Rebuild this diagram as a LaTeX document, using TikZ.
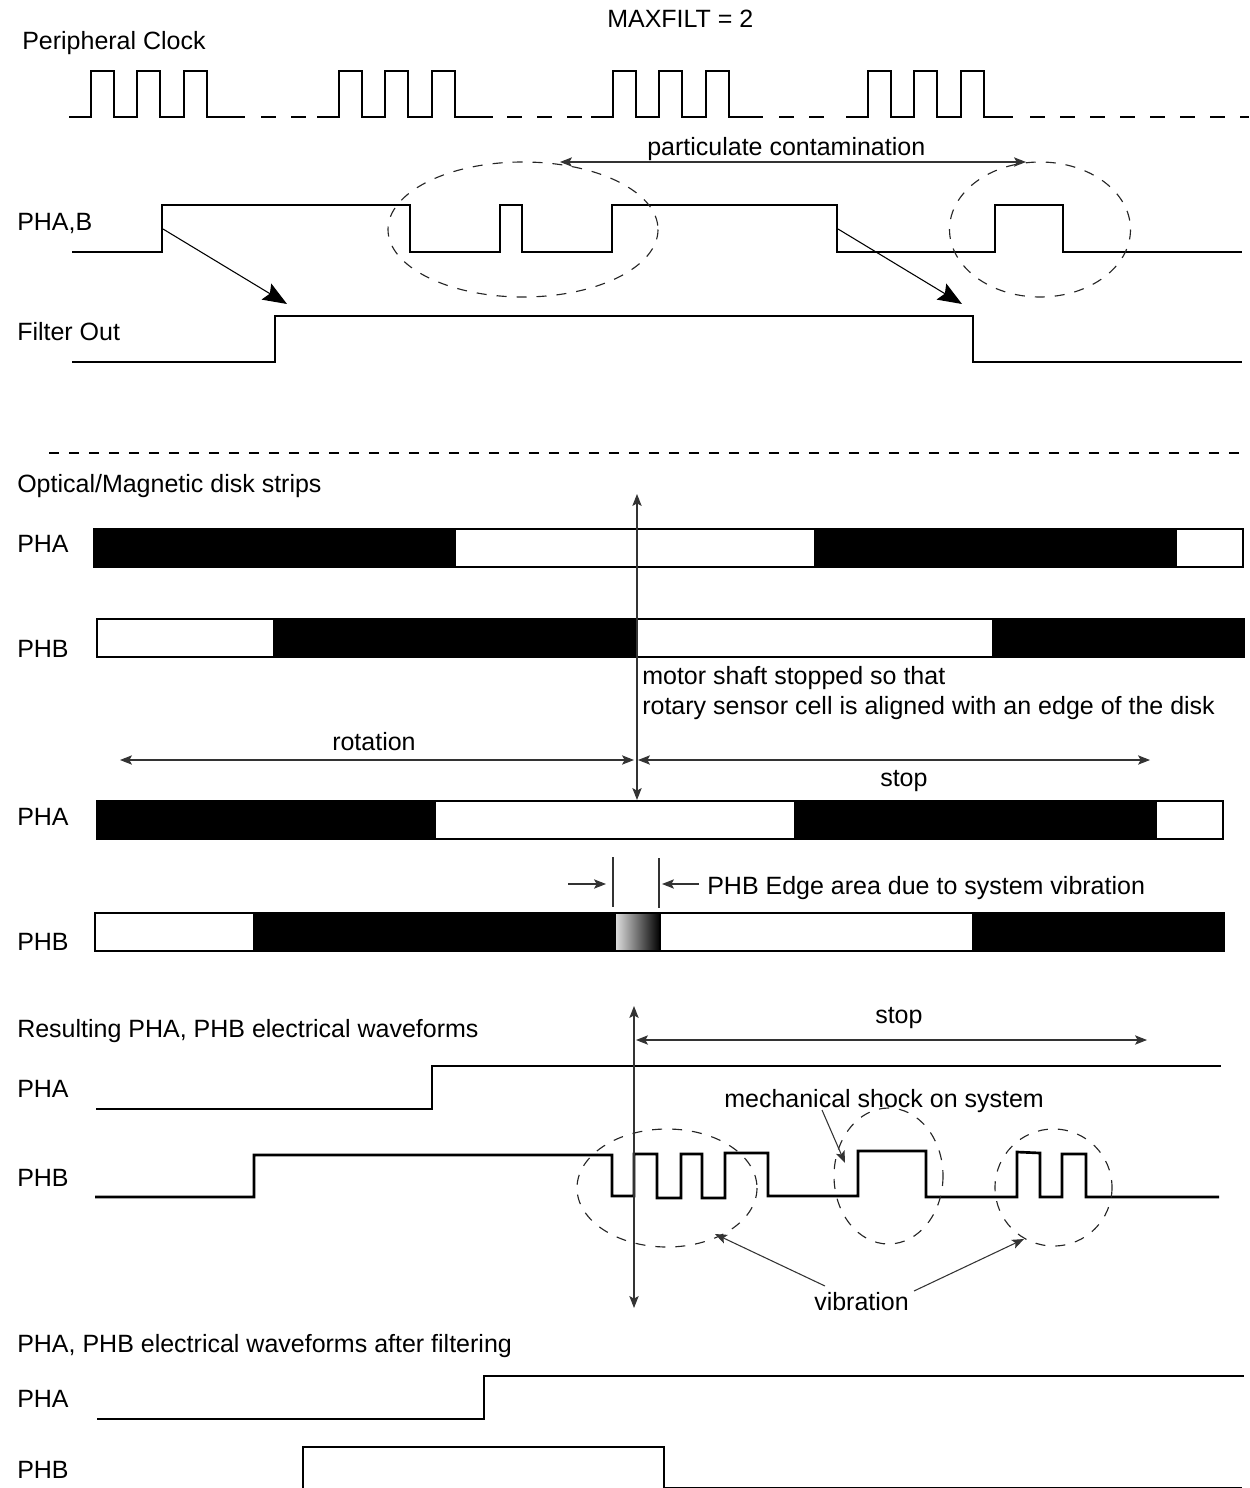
\documentclass[tikz,border=0pt]{standalone}
\usepackage{fontspec}
\setmainfont{Liberation Sans}
\usetikzlibrary{arrows.meta}
\begin{document}
\begin{tikzpicture}[
  x=0.75pt, y=-0.75pt,
  every node/.style={anchor=base west, inner sep=0pt, font=\fontsize{18.75}{22}\selectfont},
  wave/.style={line width=2pt, line join=miter},
  dashwave/.style={line width=2pt, dash pattern=on 11.25pt off 11.25pt},
  strip/.style={draw=black, line width=1.7pt, fill=white},
  blackbar/.style={fill=black},
  halo/.style={line width=0.85pt, draw=black!85, dash pattern=on 7.5pt off 7.5pt},
  link/.style={line width=0.8pt, draw=black!80, -{Stealth[length=9pt,width=7pt,inset=2pt]}},
  span/.style={line width=0.8pt, draw=black!80, {Stealth[length=9pt,width=7pt,inset=2pt]}-{Stealth[length=9pt,width=7pt,inset=2pt]}},
  bighead/.style={line width=0.8pt, -{Stealth[length=18pt,width=14pt,inset=3pt]}}
]
\useasboundingbox (0,0) rectangle (1249,1488);

% clock
\node (maxfilt) at (607,28) {MAXFILT = 2};
\node (clock) at (22,50) {Peripheral Clock};
\foreach \x/\y in {69/245,317/493,591/763,846/1013}
  \draw[wave] (\x,117) -| ++(22,-46) -| ++(23,46) -| ++(23,-46) -| ++(23,46) -| ++(24,-46) -| ++(23,46) -- (\y,117);
\draw[dashwave] (261,117) -- (318,117);
\draw[dashwave] (507,117) -- (585,117);
\draw[dashwave] (779,117) -- (826,117);
\draw[dashwave] (1030,117) -- (1249,117);

% filter
\node (phab) at (17,230) {PHA,B};
\node (filterout) at (17,340) {Filter Out};
\node (particulate) at (647,155) {particulate contamination};
\draw[wave] (72,252) -- (162,252) -- (162,205) -- (410,205) -- (410,252) -- (500,252) -- (500,205)
  -- (522,205) -- (522,252) -- (612,252) -- (612,205) -- (837,205) -- (837,252) -- (995,252)
  -- (995,205) -- (1063,205) -- (1063,252) -- (1242,252);
\draw[wave] (72,362) -- (275,362) -- (275,316) -- (973,316) -- (973,362) -- (1242,362);
\draw[halo] (523,229.5) ellipse (135 and 67.5);
\draw[halo] (1040,229.5) ellipse (90.5 and 67.5);
\coordinate (riseA) at (163,229);
\coordinate (riseB) at (287,304);
\coordinate (fallA) at (838,229);
\coordinate (fallB) at (962,304);
\coordinate (partA) at (560,162);
\coordinate (partB) at (1026,162);
\draw[bighead] (riseA) -- (riseB);
\draw[bighead] (fallA) -- (fallB);
\draw[span] (partA) -- (partB);

\coordinate (sepA) at (49,453);
\coordinate (sepB) at (1241,453);
\draw[line width=2pt, dash pattern=on 7.5pt off 7.5pt] (sepA) -- (sepB);

% disk strips
\node (disk) at (17,492) {Optical/Magnetic disk strips};
\node (phaA) at (17,552) {PHA};
\node (phbA) at (17,657) {PHB};
\draw[strip] (94,529) rectangle (1243,567);
\foreach \a/\b in {93/456,814/1177}
  \fill[blackbar] (\a,528) rectangle (\b,568);
\draw[strip] (97,619) rectangle (1244,657);
\foreach \a/\b in {273/637,992/1245}
  \fill[blackbar] (\a,618) rectangle (\b,658);

\node (motorA) at (642,684) {motor shaft stopped so that};
\node (motorB) at (642,714) {rotary sensor cell is aligned with an edge of the disk};
\node (rotation) at (332,750) {rotation};
\node (stopA) at (880,786) {stop};
\coordinate (rotA) at (120,760);
\coordinate (rotB) at (634,760);
\coordinate (stopL) at (638,760);
\coordinate (stopR) at (1150,760);
\draw[span] (rotA) -- (rotB);
\draw[span] (stopL) -- (stopR);

\node (phaB) at (17,825) {PHA};
\node (phbB) at (17,950) {PHB};
\draw[strip] (97,801) rectangle (1223,839);
\foreach \a/\b in {96/436,794/1157}
  \fill[blackbar] (\a,800) rectangle (\b,840);
\draw[strip] (95,913) rectangle (1224,951);
\foreach \a/\b in {253/614,972/1224}
  \fill[blackbar] (\a,912) rectangle (\b,952);
\shade[left color=black!12, right color=black] (615,913) rectangle (660,951);
\draw[line width=1.7pt] (615,913) rectangle (660,951);

\coordinate (shaftT) at (637,494);
\coordinate (shaftB) at (637,800);
\draw[span] (shaftT) -- (shaftB);

% edge area
\node (edge) at (707,894) {PHB Edge area due to system vibration};
\coordinate (edgeLT) at (613,857);
\coordinate (edgeLB) at (613,907);
\coordinate (edgeRT) at (659,858);
\coordinate (edgeRB) at (659,908);
\coordinate (inLA) at (568,884);
\coordinate (inLB) at (606,884);
\coordinate (inRA) at (699,884);
\coordinate (inRB) at (662,884);
\draw[line width=0.8pt, draw=black!80] (edgeLT) -- (edgeLB);
\draw[line width=0.8pt, draw=black!80] (edgeRT) -- (edgeRB);
\draw[link] (inLA) -- (inLB);
\draw[link] (inRA) -- (inRB);

% electrical waveforms
\node (result) at (17,1037) {Resulting PHA, PHB electrical waveforms};
\node (stopB) at (875,1023) {stop};
\node (phaC) at (17,1097) {PHA};
\node (phbC) at (17,1186) {PHB};
\node (shock) at (724,1107) {mechanical shock on system};
\node (vibration) at (814,1310) {vibration};
\draw[wave] (96,1109) -- (432,1109) -- (432,1066) -- (1221,1066);
\draw[wave] (95,1197) -- (254,1197) -- (254,1155) -- (612,1155) -- (612,1196) -- (634,1196) -- (634,1154)
  -- (657,1154) -- (657,1198) -- (681,1198) -- (681,1154) -- (702,1154) -- (702,1198) -- (725,1198)
  -- (725,1153) -- (768,1153) -- (768,1196) -- (858,1196) -- (858,1151) -- (926,1151) -- (926,1197)
  -- (1017,1197) -- (1017,1152) -- (1040,1153) -- (1040,1197) -- (1062,1197) -- (1062,1154)
  -- (1086,1154) -- (1086,1197) -- (1219,1197);
\draw[halo] (667,1188) ellipse (90 and 59);
\draw[halo] (888.5,1176) ellipse (54.5 and 68);
\draw[halo] (1053.5,1187.5) ellipse (58.5 and 58.5);

\coordinate (probeT) at (634,1006);
\coordinate (probeB) at (634,1308);
\coordinate (stopC) at (636,1040);
\coordinate (stopD) at (1147,1040);
\draw[span] (probeT) -- (probeB);
\draw[span] (stopC) -- (stopD);
\coordinate (shockA) at (822,1110);
\coordinate (shockB) at (845,1163);
\coordinate (vibA) at (825,1286);
\coordinate (vibB) at (715,1234);
\coordinate (vibC) at (914,1291);
\coordinate (vibD) at (1024,1239);
\draw[link] (shockA) -- (shockB);
\draw[link] (vibA) -- (vibB);
\draw[link] (vibC) -- (vibD);

% after filtering
\node (filtered) at (17,1352) {PHA, PHB electrical waveforms after filtering};
\node (phaD) at (17,1407) {PHA};
\node (phbD) at (17,1478) {PHB};
\draw[wave] (97,1419) -- (484,1419) -- (484,1376) -- (1244,1376);
\draw[wave] (303,1490) -- (303,1447) -- (664,1447) -- (664,1488) -- (1242,1488);
\end{tikzpicture}
\end{document}
